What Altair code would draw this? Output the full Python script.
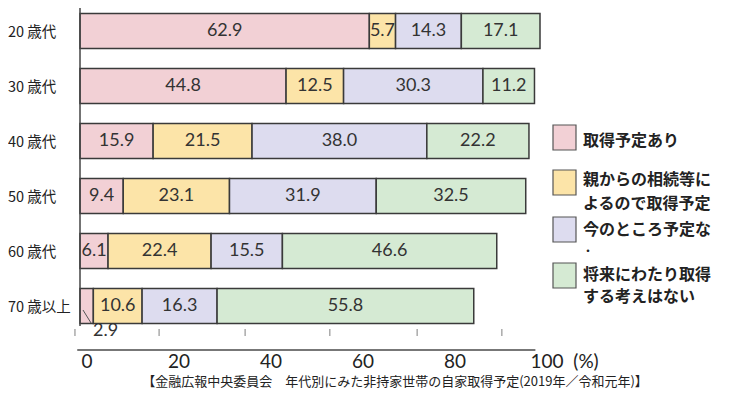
import altair as alt
import pandas as pd

# ---- data ----
ages = ["20 歳代", "30 歳代", "40 歳代", "50 歳代", "60 歳代", "70 歳以上"]
series = ["取得予定あり", "親からの相続等によるので取得予定", "今のところ予定なし", "将来にわたり取得する考えはない"]
plan = [62.9, 44.8, 15.9, 9.4, 6.1, 2.9]
inherit = [5.7, 12.5, 21.5, 23.1, 22.4, 10.6]
none_now = [14.3, 30.3, 38.0, 31.9, 15.5, 16.3]
never = [17.1, 11.2, 22.2, 32.5, 46.6, 55.8]
tick_labels = [0, 20, 40, 60, 80, 100]
faint_ticks = [-1.1, 17.2, 35.9, 54.3, 73.3, 91.7]
colors = ["#f2d0d5", "#fce4a8", "#dddcef", "#d5ead3"]
caption = "【金融広報中央委員会　年代別にみた非持家世帯の自家取得予定(2019年／令和元年)】"

cols = [plan, inherit, none_now, never]
rows = []
for i, age in enumerate(ages):
    s = 0.0
    for k, name in enumerate(series):
        v = cols[k][i]
        rows.append(dict(age=age, series=name, order=k, value=v, start=s, end=s + v,
                         mid=s + v / 2, label=f"{v:.1f}"))
        s += v
df = pd.DataFrame(rows)

xs = alt.Scale(domain=[0, 100], range=[72, 532])
ys = alt.Scale(domain=ages, range=[-4.5, 325.5], paddingInner=0.3636, paddingOuter=0.1818)
cs = alt.Scale(domain=series, range=colors)

NUM_FONT = "Lato"
JP_FONT = "Noto Sans CJK JP"

base = alt.Chart(df)
bars = base.mark_bar(stroke="#3a3a3a", strokeWidth=1.5).encode(
    x=alt.X("start:Q", scale=xs, axis=None),
    x2="end:Q",
    y=alt.Y("age:N", scale=ys, axis=None),
    color=alt.Color("series:N", scale=cs, legend=None),
)

is_small = "datum.age == '70 歳以上' && datum.order == 0"
labels = base.transform_filter(f"!({is_small})").mark_text(
    font=NUM_FONT, fontSize=18, color="#333"
).encode(
    x=alt.X("mid:Q", scale=xs),
    y=alt.Y("age:N", scale=ys),
    text="label:N",
)
small_label = base.transform_filter(is_small).mark_text(
    font=NUM_FONT, fontSize=18, color="#333", dx=19, dy=25
).encode(
    x=alt.X("mid:Q", scale=xs),
    y=alt.Y("age:N", scale=ys),
    text="label:N",
)
leader = alt.Chart(pd.DataFrame({"a": [0.65], "b": [2.4]})).mark_rule(
    color="#555", strokeWidth=1
).encode(x=alt.X("a:Q", scale=xs), x2="b:Q", y=alt.value(302), y2=alt.value(315))

cat_labels = alt.Chart(pd.DataFrame({"age": ages})).mark_text(
    align="left", font=JP_FONT, fontSize=14.5, color="#222", dy=2
).encode(x=alt.value(0), y=alt.Y("age:N", scale=ys), text="age:N")

vline = alt.Chart(pd.DataFrame({"v": [0]})).mark_rule(color="#444", strokeWidth=1.5).encode(
    x=alt.X("v:Q", scale=xs), y=alt.value(-4), y2=alt.value(318)
)

ticks = alt.Chart(pd.DataFrame({"t": faint_ticks})).mark_rule(color="#aaa", strokeWidth=1.5).encode(
    x=alt.X("t:Q", scale=xs), y=alt.value(321), y2=alt.value(328)
)
domain = alt.Chart(pd.DataFrame({"a": [-0.6], "b": [99.0]})).mark_rule(color="#777", strokeWidth=2).encode(
    x=alt.X("a:Q", scale=xs), x2="b:Q", y=alt.value(342)
)
axis_labels = alt.Chart(pd.DataFrame({"t": tick_labels})).mark_text(
    font=NUM_FONT, fontSize=19, color="#222", dx=7, baseline="middle"
).encode(x=alt.X("t:Q", scale=xs), y=alt.value(354), text="t:N")
pct = alt.Chart(pd.DataFrame({"t": [100]})).mark_text(
    font=NUM_FONT, fontSize=19, color="#222", dx=46, baseline="middle", text="(%)"
).encode(x=alt.X("t:Q", scale=xs), y=alt.value(354))

cap = alt.Chart(pd.DataFrame({"c": [caption]})).mark_text(
    font=JP_FONT, fontSize=13, color="#222", baseline="middle"
).encode(x=alt.value(387), y=alt.value(374), text="c:N")

# ---- manual legend ----
legend_layers = []
swatch_y = [(117, 142), (162, 187), (209, 234), (255, 280)]
for name, (y0, y1) in zip(series, swatch_y):
    legend_layers.append(
        alt.Chart(pd.DataFrame({"series": [name]})).mark_rect(stroke="#555", strokeWidth=1.2).encode(
            x=alt.value(545), x2=alt.value(568), y=alt.value(y0), y2=alt.value(y1),
            color=alt.Color("series:N", scale=cs, legend=None),
        )
    )
legend_lines = [
    ("取得予定あり", 133, 16),
    ("親からの相続等に", 172, 16),
    ("よるので取得予定", 196, 16),
    ("今のところ予定な", 222, 16),
    ("・", 244, 10),
    ("将来にわたり取得", 267, 16),
    ("する考えはない", 289, 16),
]
for txt, y, fs in legend_lines:
    legend_layers.append(
        alt.Chart(pd.DataFrame({"t": [txt]})).mark_text(
            align="left", baseline="middle", font=JP_FONT, fontSize=fs,
            fontWeight="bold", color="#222"
        ).encode(x=alt.value(575), y=alt.value(y), text="t:N")
    )

chart = alt.layer(
    bars, labels, small_label, leader, cat_labels, vline, ticks, domain,
    axis_labels, pct, cap, *legend_layers
).properties(
    width=734, height=382, padding=0, autosize="none"
).configure_view(stroke=None)

chart.save("out.html", embed_options={"renderer": "svg", "actions": False})
